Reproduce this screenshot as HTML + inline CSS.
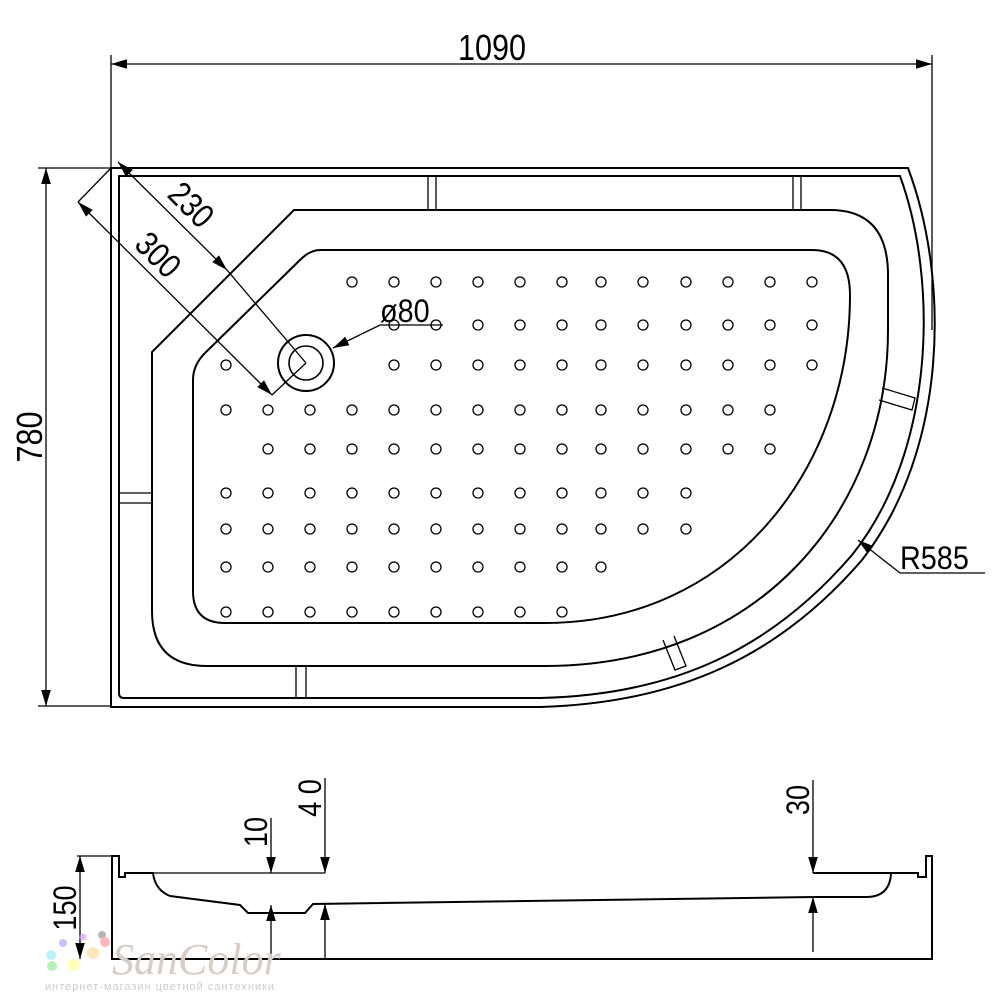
<!DOCTYPE html>
<html><head><meta charset="utf-8"><style>
html,body{margin:0;padding:0;background:#fff;}
svg{display:block;}
text{font-family:"Liberation Sans",sans-serif;fill:#000;}
</style></head><body>
<svg width="1000" height="1000" viewBox="0 0 1000 1000" xmlns="http://www.w3.org/2000/svg">
<defs>
<marker id="a" viewBox="0 0 10 10" refX="10" refY="5" markerWidth="16" markerHeight="16" markerUnits="userSpaceOnUse" orient="auto-start-reverse"><path d="M0,2 L10,5 L0,8 Z" fill="#000"/></marker>
</defs>
<g fill="none" stroke="#000" stroke-width="1.3">
<!-- top dim -->
<line x1="111" y1="55" x2="111" y2="168"/>
<line x1="932" y1="55" x2="932" y2="330"/>
<line x1="111" y1="64" x2="932" y2="64" marker-start="url(#a)" marker-end="url(#a)"/>
<!-- left dim -->
<line x1="38" y1="168" x2="111" y2="168"/>
<line x1="38" y1="706" x2="111" y2="706"/>
<line x1="46" y1="168" x2="46" y2="706" marker-start="url(#a)" marker-end="url(#a)"/>
</g>
<g fill="none" stroke="#000" stroke-width="2">
<!-- outer -->
<path d="M111,168 L908,168 C950,280 948,450 862,560 C780,655 680,703 540,707 L111,707 Z"/>
<path d="M119,176 L900,176 C938,280 936,450 852,555 C772,648 675,695 540,698 L124,698 Q119,698 119,693 Z"/>
<!-- basin -->
<path d="M294,210 L830,210 Q888,210 888,275 L888,330 C888,510 760,666 545,666 L207,666 Q152,666 152,611 L152,352 Z"/>
<!-- floor -->
<path d="M320,250 L812,250 Q850,250 850,295 C850,470 730,623 545,623 L225,623 Q193,623 193,591 L193,380 Q193,365 205,353 L300,260 Q310,250 320,250 Z"/>
<!-- drain -->
<circle cx="306" cy="363" r="28"/>
<circle cx="306" cy="363" r="17" stroke-width="1.6"/>
</g>
<g fill="none" stroke="#000" stroke-width="1.3">
<!-- tabs -->
<path d="M428,176 V210 M436,176 V210"/>
<path d="M793,176 V210 M801,176 V210"/>
<path d="M119,493 H152 M119,503 H152"/>
<path d="M296,666 V698 M306,666 V698 M296,698 H306"/>
<path d="M882,388 L915,398 L912,410 L879,400"/>
<path d="M663,640 L675,670 L686,666 L674,636"/>
<!-- diagonal dims -->
<line x1="118" y1="162" x2="227" y2="270" marker-start="url(#a)" marker-end="url(#a)"/>
<line x1="227" y1="270" x2="306" y2="363"/>
<line x1="78" y1="202" x2="272" y2="395" marker-start="url(#a)" marker-end="url(#a)"/>
<line x1="78" y1="202" x2="111" y2="168"/>
<line x1="272" y1="395" x2="306" y2="363"/>
<!-- leaders -->
<path d="M443,325 H380 L333,348" marker-end="url(#a)"/>
<path d="M985,573 H900 L858,540" marker-end="url(#a)"/>
</g>
<g fill="none" stroke="#000" stroke-width="1.3" id="dots">
<!-- row 282 -->
<g transform="translate(0,282)"><circle cx="352" r="5"/><circle cx="394" r="5"/><circle cx="436" r="5"/><circle cx="478" r="5"/><circle cx="520" r="5"/><circle cx="562" r="5"/><circle cx="601" r="5"/><circle cx="643" r="5"/><circle cx="686" r="5"/><circle cx="728" r="5"/><circle cx="770" r="5"/><circle cx="812" r="5"/></g>
<g transform="translate(0,325)"><circle cx="394" r="5"/><circle cx="436" r="5"/><circle cx="478" r="5"/><circle cx="520" r="5"/><circle cx="562" r="5"/><circle cx="601" r="5"/><circle cx="643" r="5"/><circle cx="686" r="5"/><circle cx="728" r="5"/><circle cx="770" r="5"/><circle cx="812" r="5"/></g>
<g transform="translate(0,365)"><circle cx="226" r="5"/><circle cx="394" r="5"/><circle cx="436" r="5"/><circle cx="478" r="5"/><circle cx="520" r="5"/><circle cx="562" r="5"/><circle cx="601" r="5"/><circle cx="643" r="5"/><circle cx="686" r="5"/><circle cx="728" r="5"/><circle cx="770" r="5"/><circle cx="812" r="5"/></g>
<g transform="translate(0,410)"><circle cx="226" r="5"/><circle cx="268" r="5"/><circle cx="310" r="5"/><circle cx="352" r="5"/><circle cx="394" r="5"/><circle cx="436" r="5"/><circle cx="478" r="5"/><circle cx="520" r="5"/><circle cx="562" r="5"/><circle cx="601" r="5"/><circle cx="643" r="5"/><circle cx="686" r="5"/><circle cx="728" r="5"/><circle cx="770" r="5"/></g>
<g transform="translate(0,449)"><circle cx="268" r="5"/><circle cx="310" r="5"/><circle cx="352" r="5"/><circle cx="394" r="5"/><circle cx="436" r="5"/><circle cx="478" r="5"/><circle cx="520" r="5"/><circle cx="562" r="5"/><circle cx="601" r="5"/><circle cx="643" r="5"/><circle cx="686" r="5"/><circle cx="728" r="5"/><circle cx="770" r="5"/></g>
<g transform="translate(0,493)"><circle cx="226" r="5"/><circle cx="268" r="5"/><circle cx="310" r="5"/><circle cx="352" r="5"/><circle cx="394" r="5"/><circle cx="436" r="5"/><circle cx="478" r="5"/><circle cx="520" r="5"/><circle cx="562" r="5"/><circle cx="601" r="5"/><circle cx="643" r="5"/><circle cx="686" r="5"/></g>
<g transform="translate(0,529)"><circle cx="226" r="5"/><circle cx="268" r="5"/><circle cx="310" r="5"/><circle cx="352" r="5"/><circle cx="394" r="5"/><circle cx="436" r="5"/><circle cx="478" r="5"/><circle cx="520" r="5"/><circle cx="562" r="5"/><circle cx="601" r="5"/><circle cx="643" r="5"/><circle cx="686" r="5"/></g>
<g transform="translate(0,567)"><circle cx="226" r="5"/><circle cx="268" r="5"/><circle cx="310" r="5"/><circle cx="352" r="5"/><circle cx="394" r="5"/><circle cx="436" r="5"/><circle cx="478" r="5"/><circle cx="520" r="5"/><circle cx="562" r="5"/><circle cx="601" r="5"/></g>
<g transform="translate(0,612)"><circle cx="226" r="5"/><circle cx="268" r="5"/><circle cx="310" r="5"/><circle cx="352" r="5"/><circle cx="394" r="5"/><circle cx="436" r="5"/><circle cx="478" r="5"/><circle cx="520" r="5"/><circle cx="562" r="5"/></g>
</g>
<!-- cross section -->
<g fill="none" stroke="#000" stroke-width="2">
<path d="M112,856 H119 V877 H125 V873 H153 Q155,890 170,896 L240,905 L248,913 H305 L313,904 L813,897 H866 Q890,897 891,873 H918 V877 H926 V856 H932 V959 H112 Z"/>
<line x1="813" y1="873" x2="891" y2="873"/>
</g>
<g fill="none" stroke="#000" stroke-width="1.3">
<line x1="77" y1="856" x2="112" y2="856"/>
<line x1="80" y1="856" x2="80" y2="959" marker-start="url(#a)" marker-end="url(#a)"/>
<line x1="153" y1="873" x2="325" y2="873"/>
<line x1="271" y1="818" x2="271" y2="873" marker-end="url(#a)"/>
<line x1="271" y1="959" x2="271" y2="905" marker-end="url(#a)"/>
<line x1="325" y1="778" x2="325" y2="873" marker-end="url(#a)"/>
<line x1="325" y1="959" x2="325" y2="904" marker-end="url(#a)"/>
<line x1="813" y1="780" x2="813" y2="873" marker-end="url(#a)"/>
<line x1="813" y1="952" x2="813" y2="897" marker-end="url(#a)"/>
</g>
<!-- texts -->
<text x="492" y="60" font-size="36" text-anchor="middle" transform="translate(492,0) scale(0.85,1) translate(-492,0)">1090</text>
<text font-size="36" text-anchor="middle" transform="translate(42,437) rotate(-90) scale(0.85,1)">780</text>
<text font-size="34" text-anchor="middle" transform="translate(183,213) rotate(45) scale(0.85,1)">230</text>
<text font-size="34" text-anchor="middle" transform="translate(150,263) rotate(45) scale(0.85,1)">300</text>
<text x="380" y="322" font-size="32" transform="translate(380,0) scale(0.9,1) translate(-380,0)">ø80</text>
<text x="900" y="569" font-size="32" transform="translate(900,0) scale(0.9,1) translate(-900,0)">R585</text>
<text font-size="32" text-anchor="middle" transform="translate(76,908) rotate(-90) scale(0.85,1)">150</text>
<text font-size="32" text-anchor="middle" transform="translate(267,832) rotate(-90) scale(0.85,1)">10</text>
<text font-size="32" text-anchor="middle" transform="translate(321,798) rotate(-90) scale(0.85,1)">4 0</text>
<text font-size="32" text-anchor="middle" transform="translate(809,800) rotate(-90) scale(0.85,1)">30</text>
<!-- watermark -->
<g opacity="0.7">
<circle cx="63" cy="943" r="4" fill="#aaf"/><circle cx="83" cy="937" r="3.5" fill="#d9f"/><circle cx="102" cy="935" r="4" fill="#999"/><circle cx="105" cy="942" r="5" fill="#f99"/>
<circle cx="51" cy="955" r="5" fill="#9ef"/><circle cx="93" cy="953" r="6" fill="#fd9"/><circle cx="52" cy="966" r="5" fill="#9e9"/><circle cx="74" cy="965" r="6" fill="#ff9"/>
</g>
<text x="112" y="974" font-size="44" font-style="italic" font-family="Liberation Serif,serif" style="fill:#d8ccc6;font-family:'Liberation Serif',serif">SanColor</text>
<text x="45" y="990" font-size="11" style="fill:#ccc;letter-spacing:1px">интернет-магазин цветной сантехники</text>
</svg>
</body></html>
